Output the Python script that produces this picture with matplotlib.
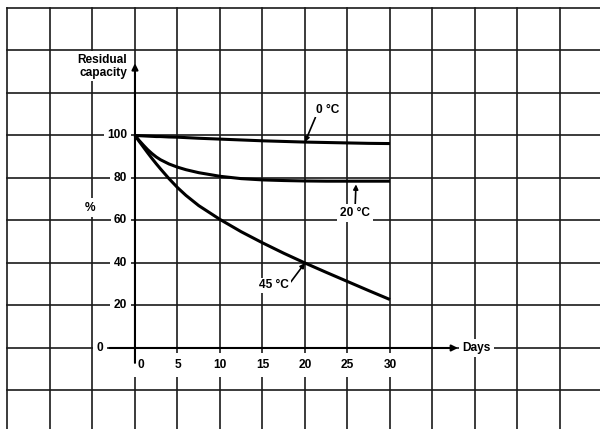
import matplotlib.pyplot as plt

plt.rcParams['font.family'] = ['Liberation Sans', 'DejaVu Sans']
plt.rcParams['font.size'] = 8.6
plt.rcParams['font.weight'] = 'bold'

# residual capacity (%) after storage, read per temperature
days = [0, 0.5, 1, 1.5, 2, 2.5, 3, 4, 5, 6, 7.5, 10, 12.5, 15, 17.5, 20, 22.5, 25, 27.5, 30]
cap_0c = [100, 99.9, 99.8, 99.7, 99.6, 99.5, 99.5, 99.3, 99.2, 99.0, 98.7, 98.3, 97.9,
          97.5, 97.2, 96.9, 96.7, 96.5, 96.3, 96.2]
cap_20c = [100, 97.6, 95.4, 93.3, 91.5, 89.9, 88.6, 86.6, 85.1, 83.9, 82.5, 80.8, 79.7,
           79.1, 78.8, 78.6, 78.5, 78.5, 78.5, 78.5]
cap_45c = [100, 97.2, 94.5, 91.8, 89.2, 86.7, 84.3, 79.7, 75.5, 71.8, 67.0, 60.5, 54.7,
           49.5, 44.6, 40.0, 35.6, 31.3, 27.0, 22.8]

x_ticks = [0, 5, 10, 15, 20, 25, 30]
y_ticks = [0, 20, 40, 60, 80, 100]

fig = plt.figure(figsize=(6, 4.29), dpi=100)
ax = fig.add_axes([0, 0, 1, 1])
ax.set_xlim(-15.88, 54.71)
ax.set_ylim(-38.12, 163.76)
ax.axis('off')

# background grid paper
grid_kw = dict(color='#1a1a1a', lw=1.2, zorder=1)
for gx in range(-15, 55, 5):
    ax.plot([gx, gx], [-40, 160], **grid_kw)
for gy in range(-20, 180, 20):
    ax.plot([-15, 56], [gy, gy], **grid_kw)

# axes with arrows
ax.annotate('', xy=(0, 134), xytext=(0, -7),
            arrowprops=dict(arrowstyle='-|>', lw=1.5, color='k',
                            mutation_scale=9, shrinkA=0, shrinkB=0), zorder=4)
ax.annotate('', xy=(38.0, 0), xytext=(-3, 0),
            arrowprops=dict(arrowstyle='-|>', lw=1.5, color='k',
                            mutation_scale=9, shrinkA=0, shrinkB=0), zorder=4)

box = dict(fc='white', ec='none', pad=2.5)

for yt in y_ticks:
    if yt == 0:
        ax.text(-3.7, yt, '0', ha='right', va='center', bbox=box, zorder=3)
    else:
        ax.text(-0.9, yt, str(yt), ha='right', va='center', bbox=box, zorder=3)

for xt in x_ticks:
    tick_box = dict(fc='white', ec='none', pad=4)
    if xt == 0:
        ax.text(0.35, -8.0, '0', ha='left', va='center', bbox=tick_box, zorder=3)
    else:
        ax.text(xt, -8.0, str(xt), ha='center', va='center', bbox=tick_box, zorder=3)

ax.text(-0.9, 132.5, 'Residual\ncapacity', ha='right', va='center',
        linespacing=1.05, bbox=dict(fc='white', ec='none', pad=2), zorder=3)
ax.text(-5.3, 66, '%', ha='center', va='center', bbox=box, zorder=3)
ax.text(38.5, 0, 'Days', ha='left', va='center',
        bbox=dict(fc='white', ec='none', pad=2.5), zorder=3)

# discharge curves
for cap in (cap_0c, cap_20c, cap_45c):
    ax.plot(days, cap, color='k', lw=2.2, solid_capstyle='butt',
            solid_joinstyle='round', zorder=5)

arrow_kw = dict(arrowstyle='-|>', lw=1.2, color='k', mutation_scale=7,
                shrinkA=0, shrinkB=0)
ax.annotate('0 °C', xy=(20, cap_0c[days.index(20)]), xytext=(21.3, 112),
            ha='left', va='center', arrowprops=dict(arrow_kw, relpos=(0, 0)),
            bbox=dict(fc='white', ec='none', pad=1), zorder=6)
ax.annotate('20 °C', xy=(26, cap_20c[days.index(25)] - 1.5), xytext=(25.9, 63.5),
            ha='center', va='center', arrowprops=dict(arrow_kw, relpos=(0.5, 1)),
            bbox=dict(fc='white', ec='none', pad=2), zorder=6)
ax.annotate('45 °C', xy=(20, cap_45c[days.index(20)]), xytext=(16.4, 29.6),
            ha='center', va='center', arrowprops=dict(arrow_kw, relpos=(1, 0.6)),
            bbox=dict(fc='white', ec='none', pad=1), zorder=6)

fig.savefig('out.png', dpi=100)
